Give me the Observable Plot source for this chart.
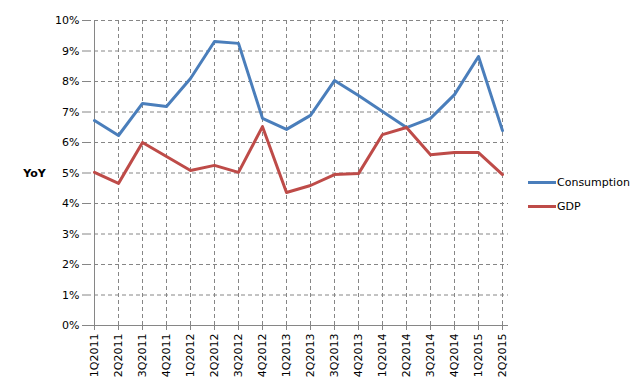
<!DOCTYPE html>
<html>
<head>
<meta charset="utf-8">
<script src="https://cdn.jsdelivr.net/npm/d3@7"></script>
<script src="https://cdn.jsdelivr.net/npm/@observablehq/plot@0.6"></script>
<style>
  body { margin: 0; background: #fff; }
  #wrap { position: relative; width: 640px; height: 385px; font-family: "DejaVu Sans", Verdana, sans-serif; }
  .leg { position: absolute; left: 528px; font-size: 11px; color: #000; display: flex; align-items: center; }
  .leg span.sw { display: inline-block; width: 28px; height: 3px; margin-right: 1px; }
</style>
</head>
<body>
<div id="wrap"></div>
<script>
const quarters = ["1Q2011","2Q2011","3Q2011","4Q2011","1Q2012","2Q2012","3Q2012","4Q2012","1Q2013","2Q2013","3Q2013","4Q2013","1Q2014","2Q2014","3Q2014","4Q2014","1Q2015","2Q2015"];
const consumption = [6.72,6.23,7.28,7.18,8.10,9.31,9.25,6.79,6.43,6.89,8.03,7.54,7.02,6.49,6.79,7.57,8.82,6.39];
const gdp = [5.02,4.66,6.00,5.54,5.08,5.25,5.02,6.52,4.36,4.59,4.95,4.98,6.26,6.49,5.60,5.67,5.67,4.95];
const seriesNames = ["Consumption", "GDP"];
const seriesColors = ["#4a7ebb", "#be4b48"];
const yTicks = [0,1,2,3,4,5,6,7,8,9,10];

const data = [];
quarters.forEach((q, i) => {
  data.push({q, series: seriesNames[0], v: consumption[i]});
  data.push({q, series: seriesNames[1], v: gdp[i]});
});

const chart = Plot.plot({
  width: 640,
  height: 385,
  marginLeft: 87,
  marginRight: 132,
  marginTop: 20,
  marginBottom: 60,
  style: {fontFamily: "DejaVu Sans, Verdana, sans-serif", fontSize: "11px", color: "#000", background: "#fff"},
  x: {type: "point", domain: quarters, padding: 0, label: null},
  y: {domain: [0, 10], label: null},
  color: {domain: seriesNames, range: seriesColors},
  marks: [
    Plot.ruleY(yTicks.slice(1), {stroke: "#868686", strokeDasharray: "4,3", strokeWidth: 1}),
    Plot.ruleX(quarters.slice(1), {stroke: "#868686", strokeDasharray: "4,3", strokeWidth: 1}),
    Plot.ruleX([quarters[0]], {stroke: "#868686", strokeWidth: 1}),
    Plot.ruleY([0], {stroke: "#868686", strokeWidth: 1}),
    Plot.axisY({ticks: yTicks, tickSize: 5, tickPadding: 3, tickFormat: d => d + "%", stroke: "#868686", label: null, fontSize: 11}),
    Plot.axisX({tickSize: 5, tickPadding: 3, tickRotate: -90, stroke: "#868686", label: null, fontSize: 11}),
    Plot.line(data, {x: "q", y: "v", z: "series", stroke: "series", strokeWidth: 3, strokeLinejoin: "round", strokeLinecap: "round"}),
    Plot.text(["YoY"], {frameAnchor: "left", dx: -53, text: d => d, fontWeight: "bold", fontSize: 11, textAnchor: "middle"})
  ]
});

const wrap = document.getElementById("wrap");
wrap.appendChild(chart);
const legTops = [176, 200];
seriesNames.forEach((name, i) => {
  const d = document.createElement("div");
  d.className = "leg";
  d.style.top = legTops[i] + "px";
  d.innerHTML = `<span class="sw" style="background:${seriesColors[i]}"></span><span>${name}</span>`;
  wrap.appendChild(d);
});
</script>
</body>
</html>
